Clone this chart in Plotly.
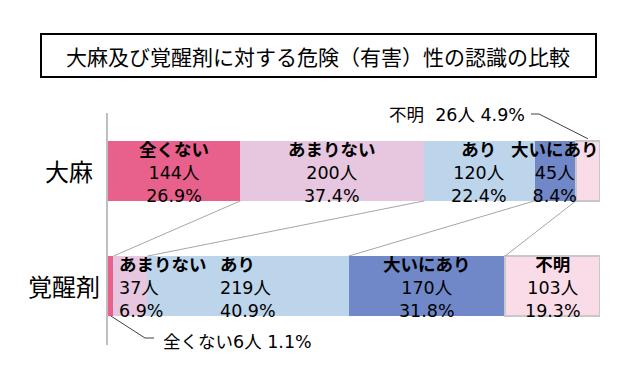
import plotly.graph_objects as go

# ---- data ----
rows = ["大麻", "覚醒剤"]
categories = ["全くない", "あまりない", "あり", "大いにあり", "不明"]
counts_taima = [144, 200, 120, 45, 26]
pct_taima = [26.9, 37.4, 22.4, 8.4, 4.9]
counts_kakusei = [6, 37, 219, 170, 103]
pct_kakusei = [1.1, 6.9, 40.9, 31.8, 19.3]
title_text = "大麻及び覚醒剤に対する危険（有害）性の認識の比較"

colors = ["#E8618C", "#E6C7DF", "#BCD5EA", "#7188C8", "#FADCE8"]
FONT = "Noto Sans CJK JP"
LFONT = "DejaVu Sans, Noto Sans CJK JP"
LSIZE = 17.5

W, H = 636, 390
ML, MR, MT, MB = 100, 44, 105, 53
PW, PH = W - ML - MR, H - MT - MB

Y_T, Y_K = 1, 0           # row positions
BW = 0.52                 # bar thickness
YR = [-0.513, 1.504]

def px_to_px(px):   # pixel x -> data x (percent)
    return (px - ML) / PW * 100

def py_to_dy(py):   # pixel y -> data y
    return YR[1] - (py - MT) / PH * (YR[1] - YR[0])

def px_paper(px):
    return (px - ML) / PW

def py_paper(py):
    return 1 - (py - MT) / PH

fig = go.Figure()
for i, c in enumerate(categories):
    fig.add_trace(go.Bar(
        y=[Y_T, Y_K], x=[pct_taima[i], pct_kakusei[i]],
        orientation="h", name=c, width=BW,
        marker=dict(color=colors[i],
                    line=dict(color="#C8C8C8" if c == "不明" else colors[i],
                              width=1.5 if c == "不明" else 0)),
        hoverinfo="skip", showlegend=False,
    ))

def cum(vals):
    out, s = [], 0
    for v in vals:
        out.append(s)
        s += v
    return out, s

starts_t, _ = cum(pct_taima)
starts_k, _ = cum(pct_kakusei)

shapes = []
annotations = []

# connector lines between the two bars
for i in range(1, len(categories)):
    shapes.append(dict(type="line", xref="x", yref="y",
                       x0=starts_t[i], y0=Y_T - BW / 2,
                       x1=starts_k[i], y1=Y_K + BW / 2,
                       line=dict(color="#A6A6A6", width=1)))

# in-bar labels
modes_t = ["center", "center", "center", "center", "outside"]
modes_k = ["outside", "left", "block", "center", "center"]

def add_labels(starts, pcts, cnts, modes, yrow):
    for i, c in enumerate(categories):
        m = modes[i]
        if m == "outside":
            continue
        txt = f"<b>{c}</b><br>{cnts[i]}人<br>{pcts[i]:.1f}%"
        base = dict(y=yrow, xref="x", yref="y", text=txt, showarrow=False, yshift=-2,
                    font=dict(family=LFONT, size=LSIZE, color="#000"))
        if m == "left":
            annotations.append(dict(base, x=starts[i], xanchor="left", align="left", xshift=4))
        else:
            annotations.append(dict(base, x=starts[i] + pcts[i] / 2, xanchor="center",
                                    align="left" if m == "block" else "center"))

add_labels(starts_t, pct_taima, counts_taima, modes_t, Y_T)
add_labels(starts_k, pct_kakusei, counts_kakusei, modes_k, Y_K)

# outside label: 大麻 不明
annotations.append(dict(x=px_to_px(519), y=py_to_dy(107), xref="x", yref="y",
                        text=f"{categories[4]}  {counts_taima[4]}人 {pct_taima[4]:.1f}%",
                        showarrow=False, xanchor="right",
                        font=dict(family=LFONT, size=LSIZE, color="#000")))
shapes.append(dict(type="path", xref="x", yref="y",
                   path=f"M {px_to_px(523)} {py_to_dy(106)} L {px_to_px(531)} {py_to_dy(106)} "
                        f"L {starts_t[4] + pct_taima[4] / 2} {Y_T + BW / 2 + 0.02}",
                   line=dict(color="#404040", width=1)))

# outside label: 覚醒剤 全くない
annotations.append(dict(x=px_to_px(153), y=py_to_dy(334), xref="x", yref="y",
                        text=f"{categories[0]}{counts_kakusei[0]}人 {pct_kakusei[0]:.1f}%",
                        showarrow=False, xanchor="left",
                        font=dict(family=LFONT, size=LSIZE, color="#000")))
shapes.append(dict(type="path", xref="x", yref="y",
                   path=f"M {starts_k[0] + pct_kakusei[0] / 2} {Y_K - BW / 2} "
                        f"L {px_to_px(137)} {py_to_dy(330)} L {px_to_px(146)} {py_to_dy(330)}",
                   line=dict(color="#404040", width=1)))

# row labels
annotations.append(dict(x=px_paper(61), y=Y_T, xref="paper", yref="y", text=rows[0],
                        showarrow=False, xanchor="center",
                        font=dict(family=FONT, size=24, color="#000")))
annotations.append(dict(x=px_paper(56), y=Y_K, xref="paper", yref="y", text=rows[1],
                        showarrow=False, xanchor="center",
                        font=dict(family=FONT, size=24, color="#000")))

# title box
shapes.append(dict(type="rect", xref="paper", yref="paper",
                   x0=px_paper(33), x1=px_paper(588), y0=py_paper(69), y1=py_paper(26),
                   line=dict(color="#000", width=2), fillcolor="rgba(0,0,0,0)"))
annotations.append(dict(x=px_paper(310), y=py_paper(47.5), xref="paper", yref="paper",
                        text=title_text, showarrow=False, xanchor="center", yanchor="middle",
                        font=dict(family=FONT, size=21, color="#000")))

fig.update_layout(
    width=W, height=H, barmode="stack",
    margin=dict(l=ML, r=MR, t=MT, b=MB),
    paper_bgcolor="white", plot_bgcolor="white",
    xaxis=dict(visible=False, range=[0, 100], fixedrange=True),
    yaxis=dict(range=YR, showticklabels=False, showgrid=False, zeroline=False,
               showline=True, linecolor="#BFBFBF", linewidth=2, ticks="", fixedrange=True),
    shapes=shapes, annotations=annotations,
    font=dict(family=FONT),
)

fig.write_html("out.html", config={"displayModeBar": False})
